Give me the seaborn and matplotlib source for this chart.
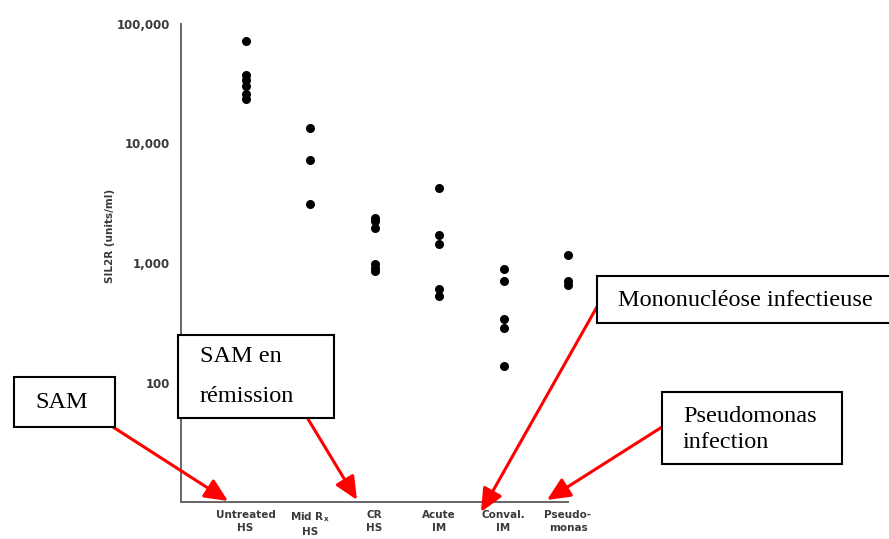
import matplotlib
matplotlib.use("Agg")
import matplotlib.pyplot as plt
from matplotlib.patches import Rectangle, FancyArrowPatch
import seaborn as sns
import pandas as pd
import numpy as np

# ---- data ----
categories = ["Untreated HS", "Mild Rx HS", "CR HS", "Acute IM", "Conval. IM", "Pseudomonas"]
tick_labels = ["Untreated\nHS", "Mid $\\mathbf{R_x}$\nHS", "CR\nHS", "Acute\nIM", "Conval.\nIM", "Pseudo-\nmonas"]
untreated_hs = [72000, 37500, 34100, 30300, 26000, 23600]
mild_rx_hs = [13600, 7300, 3100]
cr_hs = [2400, 2250, 1950, 990, 915, 850]
acute_im = [4240, 1700, 1450, 610, 527]
conval_im = [893, 703, 343, 287, 137]
pseudomonas = [1175, 703, 660]
y_ticks = [100, 1000, 10000, 100000]
y_tick_labels = ["100", "1,000", "10,000", "100,000"]
y_label = "SIL2R (units/ml)"

annotations = ["SAM", "SAM en\nrémission", "Mononucléose infectieuse", "Pseudomonas\ninfection"]

series = [untreated_hs, mild_rx_hs, cr_hs, acute_im, conval_im, pseudomonas]
df = pd.DataFrame({
    "group": [c for c, s in zip(categories, series) for _ in s],
    "value": [v for s in series for v in s],
})

W, H = 889, 539
sns.set_theme(style="white")
plt.rcParams["font.family"] = ["DejaVu Sans"]
fig = plt.figure(figsize=(W / 100, H / 100), dpi=100)
ax = fig.add_axes([181 / W, 1 - 502 / H, (568 - 181) / W, (502 - 24) / H])
ax.set_yscale("log")
sns.stripplot(data=df, x="group", y="value", order=categories, jitter=False,
              color="black", size=6.5, linewidth=0, ax=ax)
for coll in ax.collections:
    coll.set_clip_on(False)
ax.set_xlim(-1, 5)
ax.set_ylim(10, 100000)

for side in ["top", "right"]:
    ax.spines[side].set_visible(False)
for side in ["left", "bottom"]:
    ax.spines[side].set_color("#666666")
    ax.spines[side].set_linewidth(1.4)

ax.set_yticks(y_ticks)
ax.set_yticklabels(y_tick_labels, fontsize=8.5, fontweight="bold", color="#3a3a3a")
ax.yaxis.set_minor_locator(matplotlib.ticker.NullLocator())
ax.set_xticks(range(len(categories)))
ax.set_xticklabels(tick_labels, fontsize=7.5, fontweight="bold", color="#3a3a3a", linespacing=1.3)
ax.tick_params(axis="both", direction="in", length=6, width=1.3, color="#666666", pad=8)
ax.tick_params(axis="x", pad=6)
ax.set_xlabel("")
ax.set_ylabel("")
fig.text(110 / W, 1 - 236 / H, y_label, rotation=90, ha="center", va="center",
         fontsize=7.5, fontweight="bold", color="#3a3a3a")


def fx(x):
    return x / W


def fy(y):
    return 1 - y / H


# arrows
arrows = [((113, 427), (228, 501)),
          ((308, 419), (357, 500)),
          ((598, 305), (481, 512)),
          ((662, 427), (547, 500))]
for (x0, y0), (x1, y1) in arrows:
    arr = FancyArrowPatch((fx(x0), fy(y0)), (fx(x1), fy(y1)), transform=fig.transFigure,
                          arrowstyle="-|>,head_length=0.7,head_width=0.32", mutation_scale=20,
                          color="#ff0000", lw=2.2, shrinkA=0, shrinkB=0, zorder=5)
    fig.add_artist(arr)

# boxes
boxes = [(14, 377, 115, 427, 35, [402]),
         (178, 335, 334, 418, 200, [357, 397]),
         (597, 276, 900, 323, 618, [300]),
         (662, 392, 842, 464, 683, [416, 443])]
for (x0, y0, x1, y1, tx, tys), txt in zip(boxes, annotations):
    rect = Rectangle((fx(x0), fy(y1)), fx(x1) - fx(x0), fy(y0) - fy(y1), transform=fig.transFigure,
                     facecolor="white", edgecolor="black", lw=1.5, zorder=6)
    fig.add_artist(rect)
    for line, ty in zip(txt.split("\n"), tys):
        fig.text(fx(tx), fy(ty), line, ha="left", va="center", fontsize=17.5,
                 family="Liberation Serif", color="black", zorder=7)

fig.savefig("out.png", dpi=100)
